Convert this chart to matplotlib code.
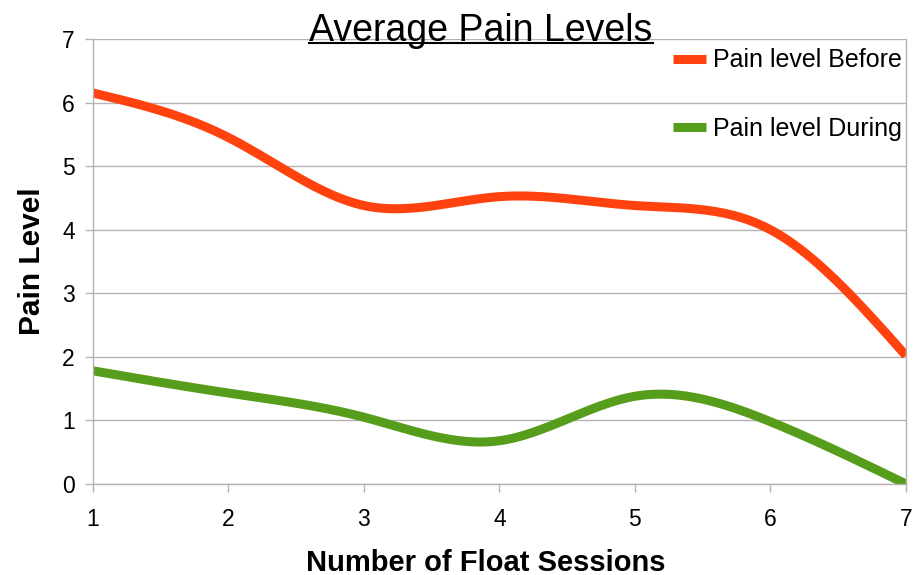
import numpy as np
import matplotlib.pyplot as plt
from matplotlib.lines import Line2D

sessions = [1, 2, 3, 4, 5, 6, 7]
pain_before = [6.15, 5.45, 4.38, 4.52, 4.38, 4.0, 2.02]
pain_during = [1.78, 1.43, 1.05, 0.68, 1.38, 0.98, 0.0]
series_labels = ["Pain level Before", "Pain level During"]
series_colors = ["#FF420E", "#579D1C"]

plt.rcParams["font.family"] = ["Liberation Sans", "DejaVu Sans"]


def natural_spline(x, y, n=400):
    """Natural cubic spline through the points (like the office chart smoothing)."""
    x = np.asarray(x, float)
    y = np.asarray(y, float)
    k = len(x)
    h = np.diff(x)
    A = np.zeros((k, k))
    b = np.zeros(k)
    A[0, 0] = A[-1, -1] = 1.0
    for i in range(1, k - 1):
        A[i, i - 1] = h[i - 1]
        A[i, i] = 2 * (h[i - 1] + h[i])
        A[i, i + 1] = h[i]
        b[i] = 6 * ((y[i + 1] - y[i]) / h[i] - (y[i] - y[i - 1]) / h[i - 1])
    M = np.linalg.solve(A, b)
    xs = np.linspace(x[0], x[-1], n)
    idx = np.clip(np.searchsorted(x, xs) - 1, 0, k - 2)
    x0, x1 = x[idx], x[idx + 1]
    hh = x1 - x0
    t0, t1 = x1 - xs, xs - x0
    ys = (M[idx] * t0 ** 3 + M[idx + 1] * t1 ** 3) / (6 * hh) \
        + (y[idx] / hh - M[idx] * hh / 6) * t0 \
        + (y[idx + 1] / hh - M[idx + 1] * hh / 6) * t1
    return xs, ys


fig = plt.figure(figsize=(9.16, 5.75), dpi=100)
ax = fig.add_axes([0.1015, 0.1583, 0.8875, 0.7739])

for vals, lab, col in zip([pain_before, pain_during], series_labels, series_colors):
    xs, ys = natural_spline(sessions, vals)
    ax.plot(xs, ys, color=col, lw=6.5, label=lab, solid_capstyle="butt")

ax.set_xlim(1, 7)
ax.set_ylim(0, 7)
ax.set_xticks(sessions)
ax.set_yticks(range(0, 8))
ax.grid(axis="y", color="#b3b3b3", lw=1)
ax.grid(axis="x", visible=False)
ax.set_axisbelow(True)
for side in ["left", "bottom", "right"]:
    ax.spines[side].set_color("#b3b3b3")
    ax.spines[side].set_linewidth(1)
ax.spines["top"].set_visible(False)
ax.tick_params(axis="x", length=6, width=1, color="#b3b3b3", pad=11, labelsize=16.5)
ax.tick_params(axis="y", length=6, width=1, color="#b3b3b3", pad=7, labelsize=16.5)

ax.set_xlabel("Number of Float Sessions", fontsize=21, fontweight="bold")
ax.xaxis.set_label_coords(0.483, -0.145)
ax.set_ylabel("Pain Level", fontsize=21.5, fontweight="bold", labelpad=12)

leg = ax.legend(loc="upper right", bbox_to_anchor=(0.985, 0.916),
                bbox_transform=fig.transFigure, frameon=False, fontsize=18,
                handlelength=1.3, handletextpad=0.3, labelspacing=1.78,
                borderpad=0, borderaxespad=0)
for h in leg.get_lines():
    h.set_linewidth(6.5)

title = fig.text(0.525, 0.946, "Average Pain Levels", ha="center", va="center",
                 fontsize=27)
fig.canvas.draw()
bb = title.get_window_extent().transformed(fig.transFigure.inverted())
fig.add_artist(Line2D([bb.x0, bb.x1], [0.926, 0.926], color="black", lw=1.5,
                      transform=fig.transFigure))

fig.savefig("out.png", dpi=100)
